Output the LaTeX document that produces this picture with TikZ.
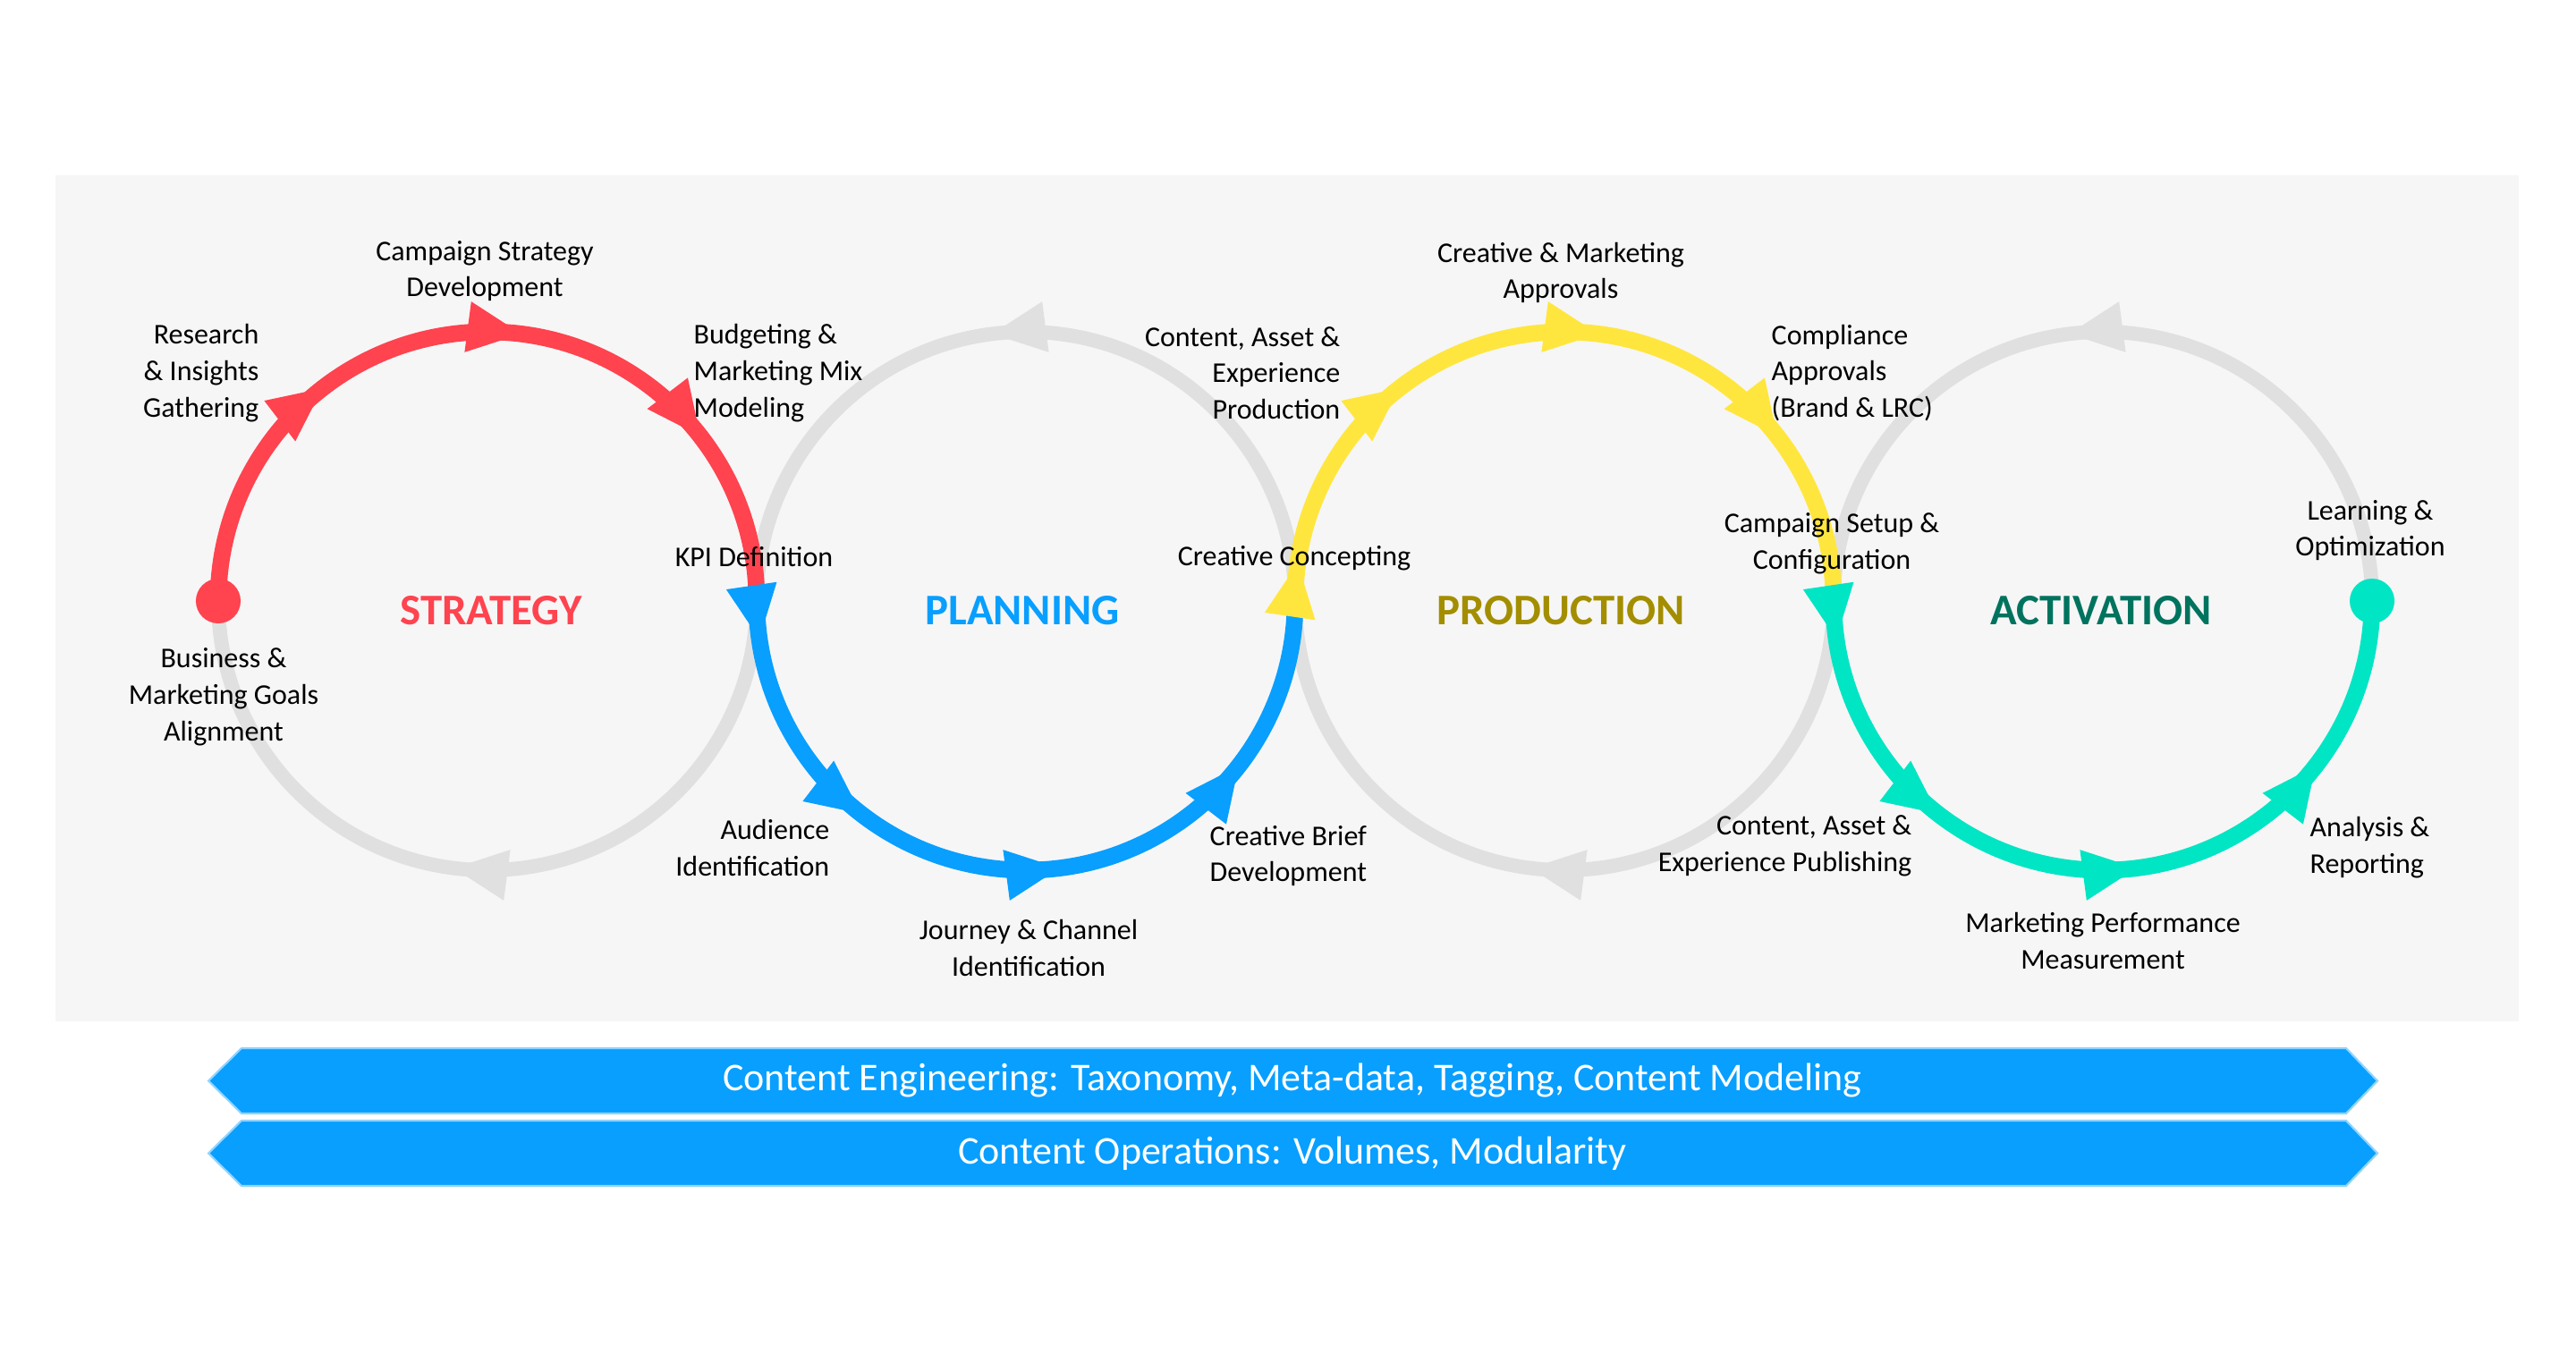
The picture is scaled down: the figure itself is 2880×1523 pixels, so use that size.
\documentclass[tikz,border=0pt]{standalone}
\usepackage{fontspec}
\setmainfont{Carlito}
\usetikzlibrary{arrows.meta,decorations.markings}
\definecolor{bggray}{HTML}{F6F6F6}
\definecolor{ringgray}{HTML}{E0E0E0}
\definecolor{ssred}{HTML}{FF434F}
\definecolor{ssblue}{HTML}{089FFF}
\definecolor{ssyellow}{HTML}{FFE63E}
\definecolor{ssteal}{HTML}{00E5C4}
\definecolor{prodtext}{HTML}{A38E00}
\definecolor{acttext}{HTML}{00735E}
\newcommand{\ahead}{\arrow{Triangle[length=.62cm,width=.52cm]}}

\begin{document}
\begin{tikzpicture}[x=.01cm,y=.01cm,
lbl/.style={font=\fontsize{9.1}{11.6}\selectfont,inner sep=0,align=center},
hd/.style={font=\fontsize{13.9}{16}\selectfont\bfseries,inner sep=0},
bandtxt/.style={font=\fontsize{12.5}{14}\selectfont,text=white,inner sep=0},
ringarc/.style={color=ringgray,line width=4.5pt,decoration={markings,mark=at position .542 with{\ahead}},postaction=decorate},
flowarc/.style={color=#1,line width=5.3pt,decoration={markings,mark=at position .292 with{\ahead},mark=at position .542 with{\ahead},mark=at position .792 with{\ahead}},postaction=decorate},
flowarcin/.style={color=#1,line width=5.3pt,decoration={markings,mark=at position .047 with{\ahead},mark=at position .292 with{\ahead},mark=at position .542 with{\ahead},mark=at position .792 with{\ahead}},postaction=decorate},
dot/.style={circle,fill=#1,minimum size=.5cm,inner sep=0},
band/.style={fill=ssblue,draw=ssblue!45!white,line width=.6pt}]
\useasboundingbox(0,0)rectangle(2880,1523);
\fill[white](0,0)rectangle(2880,1523);\fill[bggray](62,381)rectangle(2816,1327);
\coordinate(cs)at(545,851);\coordinate(cp)at(1147,851);\coordinate(cr)at(1749,851);\coordinate(ca)at(2351,851);
\draw[ringarc]([shift={(0:301)}]cs)arc[start angle=0,end angle=-180,radius=301];
\draw[ringarc]([shift={(0:301)}]cp)arc[start angle=0,end angle=180,radius=301];
\draw[ringarc]([shift={(0:301)}]cr)arc[start angle=0,end angle=-180,radius=301];
\draw[ringarc]([shift={(0:301)}]ca)arc[start angle=0,end angle=180,radius=301];
\draw[flowarc=ssred]([shift={(180:301)}]cs)arc[start angle=180,end angle=0,radius=301];
\draw[flowarcin=ssblue]([shift={(180:301)}]cp)arc[start angle=180,end angle=360,radius=301];
\draw[flowarcin=ssyellow]([shift={(180:301)}]cr)arc[start angle=180,end angle=0,radius=301];
\draw[flowarcin=ssteal]([shift={(180:301)}]ca)arc[start angle=180,end angle=360,radius=301];
\node[dot=ssred](sdot)at([shift={(180:301)}]cs){};\node[dot=ssteal](edot)at([shift={(0:301)}]ca){};
\node[hd,text=ssred](strat)at(549,840){STRATEGY};\node[hd,text=ssblue](plan)at(1143,840){PLANNING};
\node[hd,text=prodtext](prod)at(1745,840){PRODUCTION};\node[hd,text=acttext](act)at(2349,840){ACTIVATION};
\node[lbl](camp)at(542,1220){Campaign Strategy\\Development};
\node[lbl,anchor=east,align=right](res)at(290,1106){Research\\\& Insights\\Gathering};
\node[lbl,anchor=west,align=left](budg)at(775,1106){Budgeting \&\\Marketing Mix\\Modeling};
\node[lbl](kpi)at(843,900){KPI Definition};
\node[lbl](biz)at(250,744){Business \&\\Marketing Goals\\Alignment};
\node[lbl,anchor=east,align=right](aud)at(928,575){Audience\\Identification};
\node[lbl](jour)at(1150,463){Journey \& Channel\\Identification};
\node[lbl,anchor=west,align=left](brief)at(1352,566){Creative Brief\\Development};
\node[lbl,anchor=east,align=right](asset)at(1499,1106){Content, Asset \&\\Experience\\Production};
\node[lbl](concept)at(1447,899){Creative Concepting};
\node[lbl](appr)at(1745,1218){Creative \& Marketing\\Approvals};
\node[lbl,anchor=west,align=left](compl)at(1980,1106){Compliance\\Approvals\\(Brand \& LRC)};
\node[lbl,anchor=east,align=right](publ)at(2138,577){Content, Asset \&\\Experience Publishing};
\node[lbl](setup)at(2048,915){Campaign Setup \&\\Configuration};
\node[lbl](learn)at(2650,930){Learning \&\\Optimization};
\node[lbl,anchor=west,align=left](anal)at(2582,575){Analysis \&\\Reporting};
\node[lbl](perf)at(2351,471){Marketing Performance\\Measurement};
\draw[band](270,351)--(2623,351)--(2658,314.5)--(2623,278)--(270,278)--(233,314.5)--cycle;
\draw[band](270,270)--(2623,270)--(2658,233.5)--(2623,197)--(270,197)--(233,233.5)--cycle;
\node[bandtxt](eng)at(1445,314.5){Content Engineering: Taxonomy, Meta-data, Tagging, Content Modeling};
\node[bandtxt](ops)at(1445,233.5){Content Operations: Volumes, Modularity};
\end{tikzpicture}
\end{document}
